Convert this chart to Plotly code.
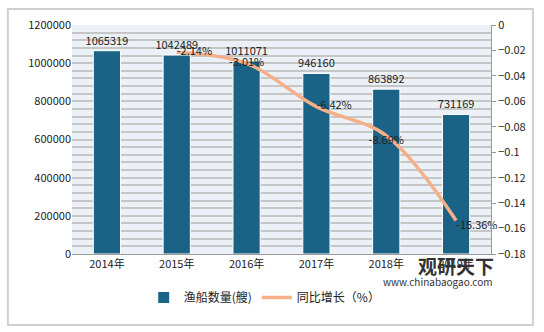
import plotly.graph_objects as go

years = ["2014年", "2015年", "2016年", "2017年", "2018年", "2019年"]
boats = [1065319, 1042489, 1011071, 946160, 863892, 731169]
growth_years = ["2015年", "2016年", "2017年", "2018年", "2019年"]
growth = [-0.0214, -0.0301, -0.0642, -0.0869, -0.1536]
growth_labels = ["-2.14%", "-3.01%", "-6.42%", "-8.69%", "-15.36%"]
growth_pos = ["middle right", "middle center", "middle right", "bottom center", "bottom right"]

FONT = "Noto Sans CJK SC"

fig = go.Figure()
fig.add_trace(go.Bar(
    x=years, y=boats, name="渔船数量(艘)",
    marker=dict(color="#1b6386", line=dict(color="white", width=1)),
    width=0.39,
    text=[str(v) for v in boats], textposition="outside", constraintext="none",
    textfont=dict(size=11, color="#222"), cliponaxis=False,
))
fig.add_trace(go.Scatter(
    x=growth_years, y=growth, name="同比增长（%）", yaxis="y2",
    mode="lines+text", line=dict(color="#f5b08a", width=3.5, shape="spline", smoothing=1),
    text=growth_labels, textposition=growth_pos,
    textfont=dict(size=11, color="#222"), cliponaxis=False,
))

fig.update_layout(
    width=544, height=332,
    margin=dict(l=72, r=53, t=25, b=78, autoexpand=False),
    paper_bgcolor="white", plot_bgcolor="#ebf1f7",
    font=dict(family=FONT, size=11, color="#222"),
    showlegend=True,
    legend=dict(orientation="h", x=0.46, xanchor="center", y=-0.19, yanchor="middle",
                bgcolor="white", font=dict(size=12, color="#222"), itemwidth=30),
    xaxis=dict(showline=True, linecolor="#9a9a9a", linewidth=1, ticks="",
               tickfont=dict(size=11), showgrid=False),
    yaxis=dict(range=[0, 1200000], dtick=200000, tickformat="d", showline=False,
               gridcolor="#c6c6c6", gridwidth=1.5, zeroline=False,
               minor=dict(dtick=40000, showgrid=True, gridcolor="#c6c6c6", gridwidth=1.5),
               tickfont=dict(size=11), ticks=""),
    yaxis2=dict(range=[-0.18, 0], dtick=0.02, overlaying="y", side="right",
                showline=True, linecolor="#9a9a9a", linewidth=1, ticks="outside",
                ticklen=4, tickcolor="#9a9a9a", showgrid=False, zeroline=False,
                tickfont=dict(size=11)),
)

fig.add_shape(type="rect", xref="paper", yref="paper",
              x0=-0.153, x1=1.1, y0=-0.31, y1=1.07,
              line=dict(color="#d0d0d0", width=2), layer="below")

fig.add_annotation(text="<b>观研天下</b>", xref="paper", yref="paper",
                   x=0.916, y=-0.05, xanchor="center", yanchor="middle",
                   showarrow=False, font=dict(size=19, color="#333"))
fig.add_annotation(text="www.chinabaogao.com", xref="paper", yref="paper",
                   x=0.874, y=-0.118, xanchor="center", yanchor="middle",
                   showarrow=False, font=dict(size=10, color="#333"))

fig.write_html("out.html")
